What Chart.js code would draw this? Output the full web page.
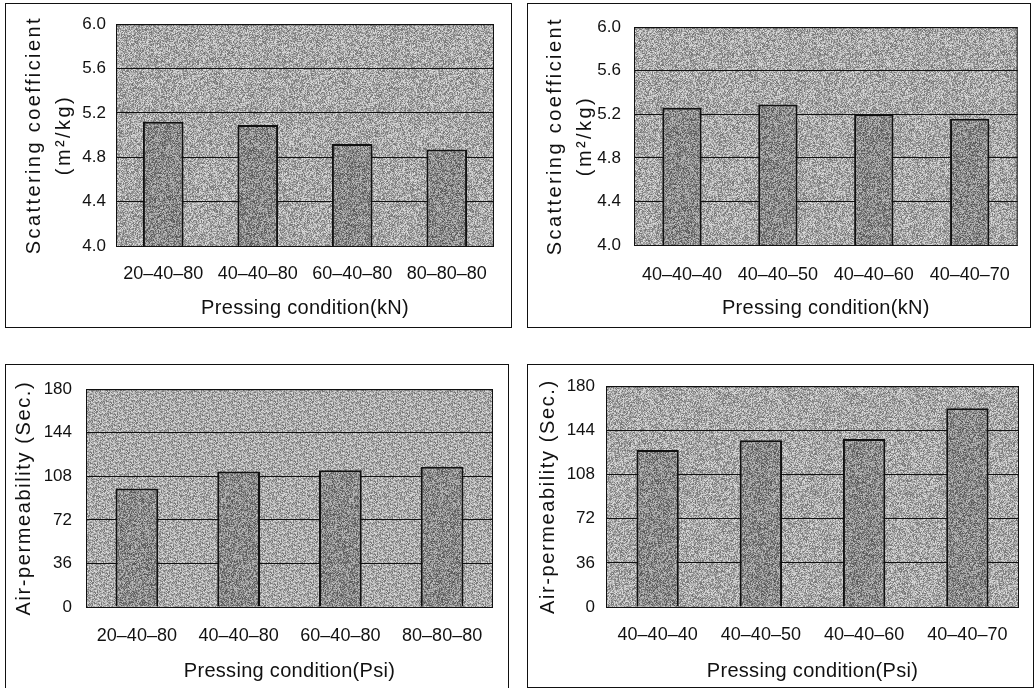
<!DOCTYPE html>
<html>
<head>
<meta charset="utf-8">
<title>Pressing condition</title>
<script src="https://cdn.jsdelivr.net/npm/chart.js@4.4.1/dist/chart.umd.min.js"></script>
<style>
  body { margin: 0; background: #fff; width: 1035px; height: 688px; overflow: hidden; position: relative; }
  .box { position: absolute; border: 1px solid #111; background: #fff; }
  .box canvas { display: block; }
</style>
</head>
<body>
<div class="box" style="left:5px; top:3px;"><canvas id="scatKn"></canvas></div>
<div class="box" style="left:527px; top:3px;"><canvas id="scatSecond"></canvas></div>
<div class="box" style="left:5px; top:364px;"><canvas id="airKn"></canvas></div>
<div class="box" style="left:527px; top:364px;"><canvas id="airSecond"></canvas></div>

<script>
// categories
const firstStage = ["20–40–80", "40–40–80", "60–40–80", "80–80–80"];
const thirdStage = ["40–40–40", "40–40–50", "40–40–60", "40–40–70"];

// values
const scatFirst = [5.12, 5.09, 4.92, 4.87];
const scatThird = [5.26, 5.29, 5.20, 5.16];
const airFirst = [98, 112, 113, 116];
const airThird = [128, 136, 137, 162];

// y ticks
const scatTicks = [4.0, 4.4, 4.8, 5.2, 5.6, 6.0];
const airTicks = [0, 36, 72, 108, 144, 180];

const FONT = "'Liberation Sans', Arial, sans-serif";

// grey speckle fill, fixed seed so it looks the same every time
const makeGrain = (base, spread, seed) => {
    const size = 128;
    const c = document.createElement("canvas");
    c.width = size;
    c.height = size;
    const g = c.getContext("2d");
    const img = g.createImageData(size, size);
    let s = seed;
    for (let i = 0; i < size * size; i++) {
        s = (s * 1103515245 + 12345) & 0x7fffffff;
        const v = base + ((s >> 9) % (2 * spread + 1)) - spread;
        img.data[i * 4] = v;
        img.data[i * 4 + 1] = v;
        img.data[i * 4 + 2] = v;
        img.data[i * 4 + 3] = 255;
    }
    g.putImageData(img, 0, 0);
    return g.createPattern(c, "repeat");
};

const plotFrame = {
    id: "plotFrame",
    beforeDraw(chart, args, opts) {
        const a = chart.chartArea;
        const ctx = chart.ctx;
        ctx.save();
        ctx.fillStyle = opts.fill;
        ctx.fillRect(a.left, a.top, a.right - a.left, a.bottom - a.top);
        ctx.restore();
    },
    afterDraw(chart) {
        const a = chart.chartArea;
        const ctx = chart.ctx;
        ctx.save();
        ctx.strokeStyle = "#111";
        ctx.lineWidth = 1;
        ctx.strokeRect(a.left + 0.5, a.top + 0.5, a.right - a.left - 1, a.bottom - a.top);
        ctx.restore();
    }
};

// axis titles are spread out a little
const spaceTitle = (scale, px) => {
    if (scale._spaced) return;
    scale._spaced = true;
    const orig = scale.drawTitle;
    scale.drawTitle = function () {
        this.ctx.letterSpacing = px + "px";
        orig.call(this);
        this.ctx.letterSpacing = "0px";
    };
};

const drawPanel = (p) => {
    const canvas = document.getElementById(p.id);
    canvas.width = p.w;
    canvas.height = p.h;
    canvas.parentNode.style.width = p.w + "px";
    canvas.parentNode.style.height = p.h + "px";

    const ticks = p.ticks;
    return new Chart(canvas.getContext("2d"), {
        type: "bar",
        data: {
            labels: p.labels,
            datasets: [{
                data: p.values,
                backgroundColor: makeGrain(138, 55, p.seed + 3),
                borderColor: "#111",
                borderWidth: 2,
                borderSkipped: "bottom",
                barPercentage: p.bar,
                categoryPercentage: 1
            }]
        },
        plugins: [plotFrame],
        options: {
            responsive: false,
            animation: false,
            devicePixelRatio: 1,
            layout: { padding: { top: p.top, right: p.right, left: 0, bottom: 0 } },
            plugins: {
                legend: { display: false },
                tooltip: { enabled: false },
                plotFrame: { fill: makeGrain(168, 55, p.seed) }
            },
            scales: {
                x: {
                    grid: { display: false, drawTicks: false },
                    border: { display: false },
                    ticks: { color: "#111", font: { family: FONT, size: 18 }, padding: p.xPad, maxRotation: 0 },
                    title: {
                        display: true,
                        text: "Pressing condition(" + p.unit + ")",
                        color: "#111",
                        font: { family: FONT, size: 20 },
                        padding: { top: 0, bottom: p.xTitlePad }
                    },
                    afterFit: (scale) => {
                        scale.height = p.h - p.bottom;
                        spaceTitle(scale, 0.3);
                    }
                },
                y: {
                    min: ticks[0],
                    max: ticks[ticks.length - 1],
                    afterBuildTicks: (scale) => { scale.ticks = ticks.map((v) => ({ value: v })); },
                    grid: { color: "#111", lineWidth: 1, drawTicks: false },
                    border: { display: true, color: "#111" },
                    ticks: {
                        color: "#111",
                        font: { family: FONT, size: 17 },
                        padding: p.yPad,
                        callback: (v) => p.decimals ? Number(v).toFixed(1) : v
                    },
                    title: {
                        display: true,
                        text: p.yTitle,
                        color: "#111",
                        font: { family: FONT, size: 20, lineHeight: 1.5 },
                        padding: { top: p.yTitlePad, bottom: 0 }
                    },
                    afterFit: (scale) => {
                        scale.width = p.left;
                        spaceTitle(scale, p.ySpace);
                    }
                }
            }
        }
    });
};

// scattering coefficient, first stage varied
drawPanel({
    id: "scatKn", w: 505, h: 323, left: 110, right: 17, top: 16, bottom: 242,
    labels: firstStage, values: scatFirst, ticks: scatTicks, decimals: true,
    yTitle: ["Scattering coefficient", "(m²/kg)"], unit: "kN", ySpace: 2.4,
    bar: 0.43, xPad: 17, xTitlePad: 7, yPad: 10, yTitlePad: 13, seed: 11
});

// scattering coefficient, third stage varied
drawPanel({
    id: "scatSecond", w: 502, h: 323, left: 106, right: 10, top: 16, bottom: 241,
    labels: thirdStage, values: scatThird, ticks: scatTicks, decimals: true,
    yTitle: ["Scattering coefficient", "(m²/kg)"], unit: "kN", ySpace: 2.4,
    bar: 0.41, xPad: 19, xTitlePad: 7, yPad: 13, yTitlePad: 12, seed: 23
});

// air permeability, first stage varied
drawPanel({
    id: "airKn", w: 502, h: 323, left: 80, right: 15, top: 17, bottom: 242,
    labels: firstStage, values: airFirst, ticks: airTicks, decimals: false,
    yTitle: "Air-permeability (Sec.)", unit: "Psi", ySpace: 1.6,
    bar: 0.42, xPad: 18, xTitlePad: 5, yPad: 14, yTitlePad: 3, seed: 37
});

// air permeability, third stage varied
drawPanel({
    id: "airSecond", w: 505, h: 322, left: 78, right: 14, top: 16, bottom: 242,
    labels: thirdStage, values: airThird, ticks: airTicks, decimals: false,
    yTitle: "Air-permeability (Sec.)", unit: "Psi", ySpace: 1.6,
    bar: 0.41, xPad: 17, xTitlePad: 4, yPad: 11, yTitlePad: 5, seed: 51
});
</script>
</body>
</html>
